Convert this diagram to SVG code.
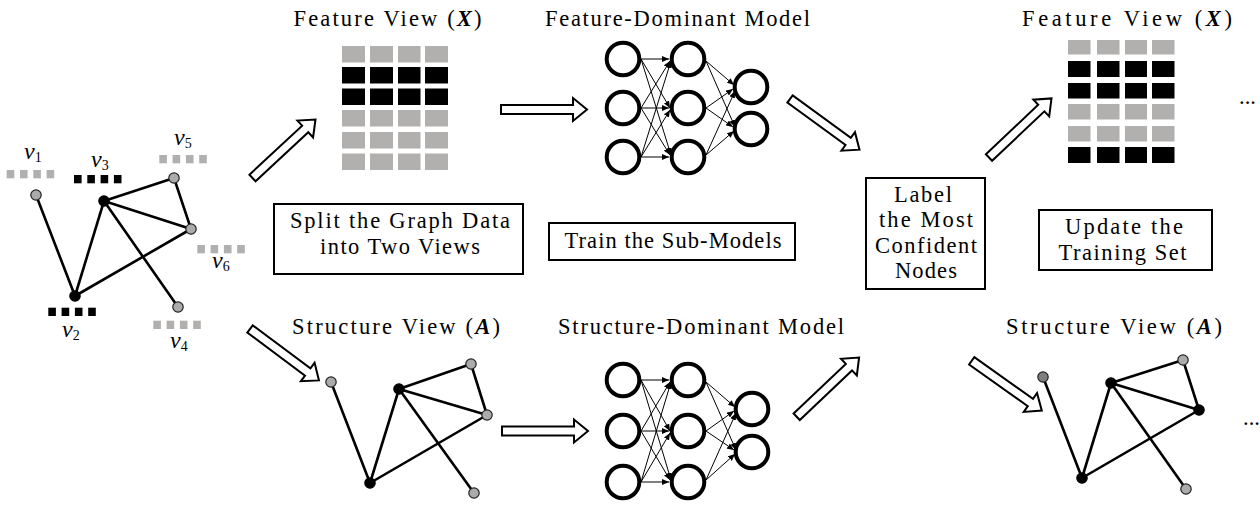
<svg xmlns="http://www.w3.org/2000/svg" xmlns:xlink="http://www.w3.org/1999/xlink" width="1260" height="505" viewBox="0 0 1260 505">
<style>
.t{font-family:"Liberation Serif","Times New Roman",serif;font-size:22.5px;fill:#000}
.mv{font-family:"Liberation Serif","Times New Roman",serif;font-style:italic;font-size:24px;fill:#000}
.sub{font-size:14px;font-style:normal}
.bx{font-weight:bold;font-style:italic}
.box{fill:#fff;stroke:#000;stroke-width:2}
.ge{stroke:#000;stroke-width:2.6;fill:none;stroke-linecap:round}
.ng{fill:#ababab;stroke:#222;stroke-width:1.2}
.nd{fill:#7f7f7f;stroke:#222;stroke-width:1.2}
.nb{fill:#000;stroke:#000;stroke-width:1.2}
.nn{fill:#fff;stroke:#000;stroke-width:4}
.ne{stroke:#000;stroke-width:1;fill:none;marker-end:url(#ah)}
.ba{fill:#fff;stroke:#000;stroke-width:2;stroke-linejoin:miter}
.gr{fill:#b2afaf}
.bk{fill:#000}
</style>
<defs>
<marker id="ah" markerUnits="userSpaceOnUse" markerWidth="8" markerHeight="6" refX="7" refY="3" orient="auto"><path d="M0,0 L7,3 L0,6 z" fill="#000"/></marker>
<path id="barrow" d="M0,-4.5 H72 V-11.5 L86,0 L72,11.5 V4.5 H0 Z"/>
<g id="sq4"><rect x="0" y="0" width="7.6" height="8.3"/><rect x="13.3" y="0" width="7.6" height="8.3"/><rect x="26.6" y="0" width="7.6" height="8.3"/><rect x="39.9" y="0" width="7.6" height="8.3"/></g>
</defs>

<!-- Original graph -->
<g id="graph-input">
  <g class="ge">
    <line x1="36" y1="195" x2="75" y2="296"/>
    <line x1="75" y1="296" x2="104" y2="201"/>
    <line x1="75" y1="296" x2="191" y2="229"/>
    <line x1="104" y1="201" x2="174" y2="178"/>
    <line x1="104" y1="201" x2="191" y2="229"/>
    <line x1="174" y1="178" x2="191" y2="229"/>
    <line x1="104" y1="201" x2="178" y2="307"/>
  </g>
  <g id="v1"><circle class="ng" cx="36" cy="195" r="5.2"/><use xlink:href="#sq4" x="6.7" y="170" class="gr"/><text class="mv" x="24" y="159">v<tspan class="sub" dy="3">1</tspan></text></g>
  <g id="v3"><circle class="nb" cx="104" cy="201" r="5.2"/><use xlink:href="#sq4" x="74" y="175" class="bk"/><text class="mv" x="91" y="167">v<tspan class="sub" dy="3">3</tspan></text></g>
  <g id="v5"><circle class="ng" cx="174" cy="178" r="5.2"/><use xlink:href="#sq4" x="159.3" y="155" class="gr"/><text class="mv" x="174" y="145">v<tspan class="sub" dy="3">5</tspan></text></g>
  <g id="v6"><circle class="ng" cx="191" cy="229" r="5.2"/><use xlink:href="#sq4" x="197.3" y="245" class="gr"/><text class="mv" x="212" y="268">v<tspan class="sub" dy="3">6</tspan></text></g>
  <g id="v2"><circle class="nb" cx="75" cy="296" r="5.2"/><use xlink:href="#sq4" x="48.3" y="307.7" class="bk"/><text class="mv" x="62" y="337">v<tspan class="sub" dy="3">2</tspan></text></g>
  <g id="v4"><circle class="ng" cx="178" cy="307" r="5.2"/><use xlink:href="#sq4" x="153.3" y="320.7" class="gr"/><text class="mv" x="170" y="348">v<tspan class="sub" dy="3">4</tspan></text></g>
</g>

<!-- Feature view (left) -->
<g id="feature-view-1">
  <text class="t" x="387.5" y="26" text-anchor="middle" textLength="188" lengthAdjust="spacing">Feature View (<tspan class="bx">X</tspan>)</text>
  <g class="gr">
    <rect x="342" y="46" width="23" height="16.5"/><rect x="370" y="46" width="23" height="16.5"/><rect x="398" y="46" width="22.5" height="16.5"/><rect x="425" y="46" width="23" height="16.5"/>
    <rect x="342" y="110" width="23" height="16.5"/><rect x="370" y="110" width="23" height="16.5"/><rect x="398" y="110" width="22.5" height="16.5"/><rect x="425" y="110" width="23" height="16.5"/>
    <rect x="342" y="132" width="23" height="16.5"/><rect x="370" y="132" width="23" height="16.5"/><rect x="398" y="132" width="22.5" height="16.5"/><rect x="425" y="132" width="23" height="16.5"/>
    <rect x="342" y="153.5" width="23" height="16.5"/><rect x="370" y="153.5" width="23" height="16.5"/><rect x="398" y="153.5" width="22.5" height="16.5"/><rect x="425" y="153.5" width="23" height="16.5"/>
  </g>
  <g class="bk">
    <rect x="342" y="67" width="23" height="16.5"/><rect x="370" y="67" width="23" height="16.5"/><rect x="398" y="67" width="22.5" height="16.5"/><rect x="425" y="67" width="23" height="16.5"/>
    <rect x="342" y="88.5" width="23" height="16.5"/><rect x="370" y="88.5" width="23" height="16.5"/><rect x="398" y="88.5" width="22.5" height="16.5"/><rect x="425" y="88.5" width="23" height="16.5"/>
  </g>
</g>

<!-- Structure view (left) -->
<g id="structure-view-1">
  <text class="t" x="396" y="334" text-anchor="middle" textLength="208" lengthAdjust="spacing">Structure View (<tspan class="bx">A</tspan>)</text>
  <g class="ge">
    <line x1="331" y1="382" x2="370" y2="483"/>
    <line x1="370" y1="483" x2="399" y2="389"/>
    <line x1="370" y1="483" x2="487" y2="415"/>
    <line x1="399" y1="389" x2="471" y2="364"/>
    <line x1="399" y1="389" x2="487" y2="415"/>
    <line x1="471" y1="364" x2="487" y2="415"/>
    <line x1="399" y1="389" x2="474" y2="493"/>
  </g>
  <circle class="ng" cx="331" cy="382" r="5.2"/>
  <circle class="nb" cx="399" cy="389" r="5.2"/>
  <circle class="ng" cx="471" cy="364" r="5.2"/>
  <circle class="ng" cx="487" cy="415" r="5.2"/>
  <circle class="nb" cx="370" cy="483" r="5.2"/>
  <circle class="ng" cx="474" cy="493" r="5.2"/>
</g>

<!-- Feature-dominant model -->
<g id="feature-model">
  <text class="t" x="677.5" y="26" text-anchor="middle" textLength="265" lengthAdjust="spacing">Feature-Dominant Model</text>
  <g>
    <line class="ne" x1="641" y1="59" x2="669" y2="59"/>
    <line class="ne" x1="641" y1="59" x2="670" y2="108"/>
    <line class="ne" x1="641" y1="59" x2="671" y2="155"/>
    <line class="ne" x1="641" y1="108" x2="670" y2="61"/>
    <line class="ne" x1="641" y1="108" x2="669" y2="108"/>
    <line class="ne" x1="641" y1="108" x2="670" y2="155"/>
    <line class="ne" x1="641" y1="157" x2="671" y2="61"/>
    <line class="ne" x1="641" y1="157" x2="670" y2="110"/>
    <line class="ne" x1="641" y1="157" x2="669" y2="157"/>
    <line class="ne" x1="706" y1="61" x2="734" y2="85"/>
    <line class="ne" x1="706" y1="61" x2="735" y2="127"/>
    <line class="ne" x1="706" y1="108" x2="733" y2="89"/>
    <line class="ne" x1="706" y1="108" x2="733" y2="127"/>
    <line class="ne" x1="706" y1="155" x2="735" y2="91"/>
    <line class="ne" x1="706" y1="155" x2="734" y2="131"/>
  </g>
  <circle class="nn" cx="623" cy="59" r="16.3"/><circle class="nn" cx="623" cy="108" r="16.3"/><circle class="nn" cx="623" cy="157" r="16.3"/>
  <circle class="nn" cx="688" cy="59" r="16.3"/><circle class="nn" cx="688" cy="108" r="16.3"/><circle class="nn" cx="688" cy="157" r="16.3"/>
  <circle class="nn" cx="751" cy="87" r="16.3"/><circle class="nn" cx="751" cy="129" r="16.3"/>
</g>

<!-- Structure-dominant model -->
<g id="structure-model">
  <text class="t" x="701" y="334" text-anchor="middle" textLength="286" lengthAdjust="spacing">Structure-Dominant Model</text>
  <g>
    <line class="ne" x1="641" y1="380" x2="669" y2="380"/>
    <line class="ne" x1="641" y1="380" x2="670" y2="431"/>
    <line class="ne" x1="641" y1="380" x2="671" y2="480"/>
    <line class="ne" x1="641" y1="431" x2="670" y2="382"/>
    <line class="ne" x1="641" y1="431" x2="669" y2="431"/>
    <line class="ne" x1="641" y1="431" x2="670" y2="480"/>
    <line class="ne" x1="641" y1="482" x2="671" y2="382"/>
    <line class="ne" x1="641" y1="482" x2="670" y2="433"/>
    <line class="ne" x1="641" y1="482" x2="669" y2="482"/>
    <line class="ne" x1="706" y1="382" x2="735" y2="407"/>
    <line class="ne" x1="706" y1="382" x2="736" y2="450"/>
    <line class="ne" x1="706" y1="431" x2="734" y2="411"/>
    <line class="ne" x1="706" y1="431" x2="734" y2="450"/>
    <line class="ne" x1="706" y1="480" x2="736" y2="413"/>
    <line class="ne" x1="706" y1="480" x2="735" y2="454"/>
  </g>
  <circle class="nn" cx="623" cy="380" r="16.3"/><circle class="nn" cx="623" cy="431" r="16.3"/><circle class="nn" cx="623" cy="482" r="16.3"/>
  <circle class="nn" cx="688" cy="380" r="16.3"/><circle class="nn" cx="688" cy="431" r="16.3"/><circle class="nn" cx="688" cy="482" r="16.3"/>
  <circle class="nn" cx="752" cy="409" r="16.3"/><circle class="nn" cx="752" cy="452" r="16.3"/>
</g>

<!-- Feature view (right) -->
<g id="feature-view-2">
  <text class="t" x="1127" y="26" text-anchor="middle" textLength="210" lengthAdjust="spacing">Feature View (<tspan class="bx">X</tspan>)</text>
  <g class="gr">
    <rect x="1068" y="40" width="22.5" height="14.5"/><rect x="1097" y="40" width="22.5" height="14.5"/><rect x="1125" y="40" width="22" height="14.5"/><rect x="1152" y="40" width="22.5" height="14.5"/>
    <rect x="1068" y="104" width="22.5" height="15.5"/><rect x="1097" y="104" width="22.5" height="15.5"/><rect x="1125" y="104" width="22" height="15.5"/><rect x="1152" y="104" width="22.5" height="15.5"/>
    <rect x="1068" y="126" width="22.5" height="15.5"/><rect x="1097" y="126" width="22.5" height="15.5"/><rect x="1125" y="126" width="22" height="15.5"/><rect x="1152" y="126" width="22.5" height="15.5"/>
  </g>
  <g class="bk">
    <rect x="1068" y="61" width="22.5" height="16"/><rect x="1097" y="61" width="22.5" height="16"/><rect x="1125" y="61" width="22" height="16"/><rect x="1152" y="61" width="22.5" height="16"/>
    <rect x="1068" y="83" width="22.5" height="15.5"/><rect x="1097" y="83" width="22.5" height="15.5"/><rect x="1125" y="83" width="22" height="15.5"/><rect x="1152" y="83" width="22.5" height="15.5"/>
    <rect x="1068" y="147" width="22.5" height="16"/><rect x="1097" y="147" width="22.5" height="16"/><rect x="1125" y="147" width="22" height="16"/><rect x="1152" y="147" width="22.5" height="16"/>
  </g>
  <text class="t" x="1239" y="104">...</text>
</g>

<!-- Structure view (right) -->
<g id="structure-view-2">
  <text class="t" x="1114" y="334" text-anchor="middle" textLength="216" lengthAdjust="spacing">Structure View (<tspan class="bx">A</tspan>)</text>
  <g class="ge">
    <line x1="1043" y1="377" x2="1082" y2="478"/>
    <line x1="1082" y1="478" x2="1111" y2="383"/>
    <line x1="1082" y1="478" x2="1199" y2="410"/>
    <line x1="1111" y1="383" x2="1183" y2="360"/>
    <line x1="1111" y1="383" x2="1199" y2="410"/>
    <line x1="1183" y1="360" x2="1199" y2="410"/>
    <line x1="1111" y1="383" x2="1186" y2="489"/>
  </g>
  <circle class="nd" cx="1043" cy="377" r="5.2"/>
  <circle class="nb" cx="1111" cy="383" r="5.2"/>
  <circle class="ng" cx="1183" cy="360" r="5.2"/>
  <circle class="nb" cx="1199" cy="410" r="5.2"/>
  <circle class="nb" cx="1082" cy="478" r="5.2"/>
  <circle class="ng" cx="1186" cy="489" r="5.2"/>
  <text class="t" x="1243" y="425">...</text>
</g>

<!-- Step boxes -->
<g id="box-split">
  <rect class="box" x="274" y="204" width="249" height="70"/>
  <text class="t" x="400" y="228" text-anchor="middle" textLength="220" lengthAdjust="spacing">Split the Graph Data</text>
  <text class="t" x="400" y="254" text-anchor="middle" textLength="160" lengthAdjust="spacing">into Two Views</text>
</g>
<g id="box-train">
  <rect class="box" x="549" y="223" width="246" height="37"/>
  <text class="t" x="673" y="248" text-anchor="middle" textLength="217" lengthAdjust="spacing">Train the Sub-Models</text>
</g>
<g id="box-label">
  <rect class="box" x="866" y="178" width="119" height="111"/>
  <text class="t" x="923" y="202" text-anchor="middle" textLength="58" lengthAdjust="spacing">Label</text>
  <text class="t" x="926" y="227" text-anchor="middle" textLength="94" lengthAdjust="spacing">the Most</text>
  <text class="t" x="926" y="253" text-anchor="middle" textLength="102" lengthAdjust="spacing">Confident</text>
  <text class="t" x="926" y="278" text-anchor="middle" textLength="62" lengthAdjust="spacing">Nodes</text>
</g>
<g id="box-update">
  <rect class="box" x="1039" y="210" width="173" height="60"/>
  <text class="t" x="1124" y="234" text-anchor="middle" textLength="118" lengthAdjust="spacing">Update the</text>
  <text class="t" x="1122.5" y="260" text-anchor="middle" textLength="128" lengthAdjust="spacing">Training Set</text>
</g>

<!-- Connectors (block arrows) -->
<g id="connectors" class="ba">
  <use xlink:href="#barrow" transform="translate(252.5,178) rotate(-42.9)"/>
  <use xlink:href="#barrow" transform="translate(501,109.5)"/>
  <use xlink:href="#barrow" transform="translate(790,99) rotate(36.1)"/>
  <use xlink:href="#barrow" transform="translate(989,157.5) rotate(-43.4)"/>
  <use xlink:href="#barrow" transform="translate(250,329) rotate(36.7)"/>
  <use xlink:href="#barrow" transform="translate(502,431)"/>
  <use xlink:href="#barrow" transform="translate(796.7,416.7) rotate(-43.5)"/>
  <use xlink:href="#barrow" transform="translate(971.7,360.8) rotate(35.4)"/>
</g>
</svg>
